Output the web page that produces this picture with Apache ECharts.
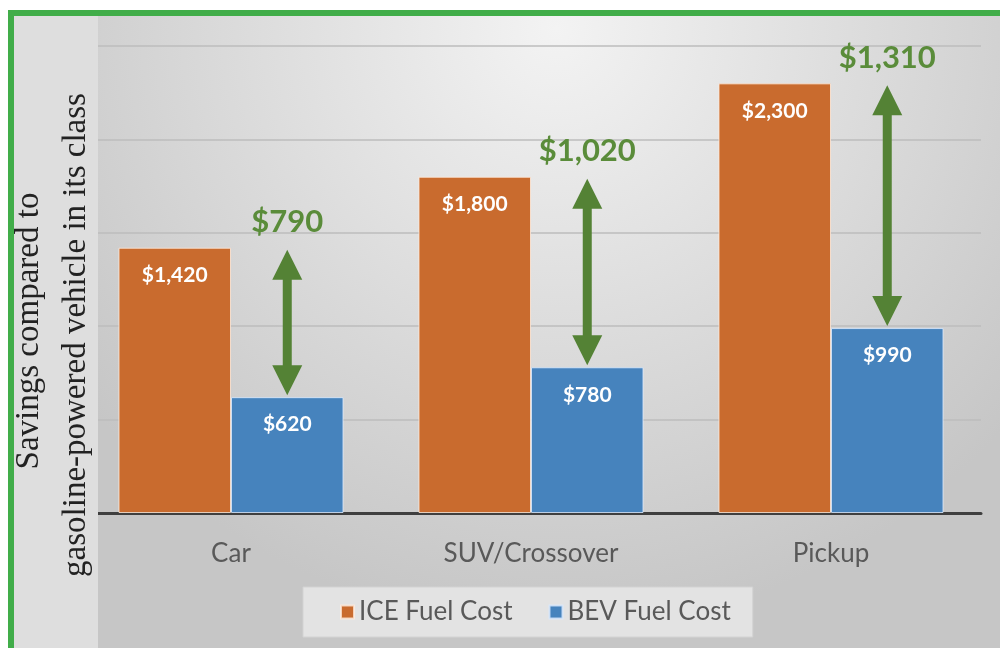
<!DOCTYPE html>
<html>
<head>
<meta charset="utf-8">
<script src="https://cdn.jsdelivr.net/npm/echarts@6/dist/echarts.min.js"></script>
<style>
  html, body { margin: 0; padding: 0; background: #fff; }
  #main { width: 1000px; height: 648px; }
</style>
</head>
<body>
<div id="main"></div>
<script>
var categories = ['Car', 'SUV/Crossover', 'Pickup'];
var iceCost = [1420, 1800, 2300];
var bevCost = [620, 780, 990];
var savings = [790, 1020, 1310];
var seriesNames = ['ICE Fuel Cost', 'BEV Fuel Cost'];

var green = '#548235';
var money = function (v) {
  return '$' + String(v).replace(/\B(?=(\d{3})+(?!\d))/g, ',');
};

var arrowData = categories.map(function (c, i) {
  return [i, iceCost[i], bevCost[i], savings[i]];
});

var myChart = echarts.init(document.getElementById('main'));
myChart.setOption({
  backgroundColor: '#ffffff',
  textStyle: { fontFamily: 'Lato' },
  graphic: [
    { // 渐变背景
      type: 'rect', z: -10, silent: true,
      shape: { x: 14, y: 16, width: 986, height: 632 },
      style: {
        fill: new echarts.graphic.RadialGradient(0.55, 0.02, 0.95, [
          { offset: 0, color: '#f3f3f3' },
          { offset: 1, color: '#c6c6c6' }
        ])
      }
    },
    { // 左侧灰条
      type: 'rect', z: 100, silent: true,
      shape: { x: 14, y: 16, width: 84, height: 632 },
      style: { fill: '#dedede' }
    },
    { type: 'rect', z: 101, silent: true, shape: { x: 8, y: 10, width: 992, height: 6 }, style: { fill: '#41ad49' } },
    { type: 'rect', z: 101, silent: true, shape: { x: 8, y: 10, width: 6, height: 638 }, style: { fill: '#41ad49' } },
    {
      type: 'text', z: 102, silent: true, x: 29, y: 331, rotation: Math.PI / 2,
      style: {
        text: 'Savings compared to', fill: '#222',
        font: '33px "Liberation Serif", serif', align: 'center', verticalAlign: 'middle'
      }
    },
    {
      type: 'text', z: 102, silent: true, x: 76, y: 335, rotation: Math.PI / 2,
      style: {
        text: 'gasoline-powered vehicle in its class', fill: '#222',
        font: '33px "Liberation Serif", serif', align: 'center', verticalAlign: 'middle'
      }
    }
  ],
  grid: { left: 81, right: 19, top: 46, bottom: 135 },
  legend: {
    data: seriesNames,
    left: 303,
    bottom: 11,
    icon: 'rect',
    itemWidth: 13,
    itemHeight: 13,
    itemGap: 36,
    padding: [12, 22, 12, 37],
    backgroundColor: '#e3e3e3',
    borderColor: '#d3d3d3',
    borderWidth: 1,
    textStyle: { fontSize: 26, color: '#595959', fontFamily: 'Lato' }
  },
  xAxis: {
    type: 'category',
    data: categories,
    axisTick: { show: false },
    axisLine: { lineStyle: { color: '#3f3f3f', width: 3 } },
    axisLabel: { margin: 28, fontSize: 26, color: '#595959', fontFamily: 'Lato' }
  },
  yAxis: {
    type: 'value',
    min: 0,
    max: 2500,
    interval: 500,
    axisLabel: { show: false },
    axisLine: { show: false },
    axisTick: { show: false },
    splitLine: { lineStyle: { color: '#bcbcbc', width: 1.5 } }
  },
  series: [
    {
      name: seriesNames[0],
      type: 'bar',
      data: iceCost,
      barGap: '0%',
      barCategoryGap: '25%',
      itemStyle: { color: '#c96b2e', borderColor: 'rgba(255,235,220,0.8)', borderWidth: 1 },
      label: {
        show: true, position: 'insideTop', distance: 17,
        color: '#fff', fontSize: 21, fontWeight: 'bold', fontFamily: 'Lato',
        formatter: function (p) { return money(p.value); }
      }
    },
    {
      name: seriesNames[1],
      type: 'bar',
      data: bevCost,
      itemStyle: { color: '#4683bd', borderColor: 'rgba(220,235,255,0.8)', borderWidth: 1 },
      label: {
        show: true, position: 'insideTop', distance: 17,
        color: '#fff', fontSize: 21, fontWeight: 'bold', fontFamily: 'Lato',
        formatter: function (p) { return money(p.value); }
      }
    },
    {
      type: 'custom',
      data: arrowData,
      z: 5,
      silent: true,
      renderItem: function (params, api) {
        var i = api.value(0);
        var top = api.coord([i, api.value(1)]);
        var bot = api.coord([i, api.value(2)]);
        var band = api.size([1, 0])[0];
        var x = top[0] + band * 0.1875; // BEV 柱中心
        var y1 = top[1] + 2, y2 = bot[1] - 2;
        var head = 30, half = 15, sw = 4.5;
        return {
          type: 'group',
          children: [
            {
              type: 'polygon',
              shape: {
                points: [
                  [x, y1], [x + half, y1 + head], [x + sw, y1 + head],
                  [x + sw, y2 - head], [x + half, y2 - head], [x, y2],
                  [x - half, y2 - head], [x - sw, y2 - head],
                  [x - sw, y1 + head], [x - half, y1 + head]
                ]
              },
              style: { fill: green }
            },
            {
              type: 'text',
              style: {
                text: money(api.value(3)), x: x, y: y1 - 12,
                align: 'center', verticalAlign: 'bottom',
                fill: '#5a8c3a', font: 'bold 31px Lato'
              }
            }
          ]
        };
      }
    }
  ]
});
</script>
</body>
</html>
